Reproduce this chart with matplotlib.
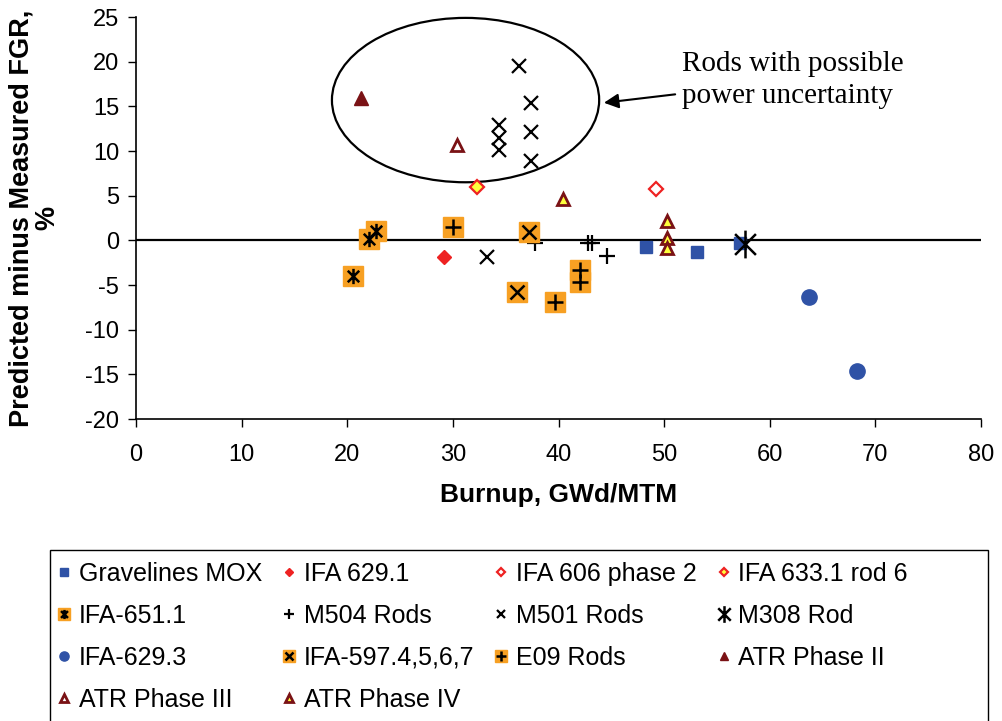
import numpy as np
import matplotlib
matplotlib.use("Agg")
import matplotlib.pyplot as plt
from matplotlib.path import Path
from matplotlib.patches import Ellipse, Rectangle
from matplotlib.legend_handler import HandlerTuple

plt.rcParams['font.family'] = ['Liberation Sans', 'DejaVu Sans']
plt.rcParams['axes.unicode_minus'] = False

# data (burnup GWd/MTM, predicted - measured FGR %)
grav_x = [48.3, 53.1, 57.2]
grav_y = [-0.7, -1.3, -0.3]
ifa6291_x = [29.2]
ifa6291_y = [-1.9]
ifa606_x = [49.2]
ifa606_y = [5.8]
ifa633_x = [32.3]
ifa633_y = [6.0]
ifa651_x = [20.5, 22.1, 22.7]
ifa651_y = [-4.0, 0.2, 1.0]
m504_x = [37.8, 42.8, 43.2, 44.6]
m504_y = [-0.3, -0.3, -0.3, -1.7]
m501_x = [33.2, 36.3, 37.4, 34.4, 34.4, 34.4, 37.4, 37.4]
m501_y = [-1.9, 19.5, 15.4, 12.9, 11.5, 10.1, 12.1, 8.9]
m308_x = [57.7]
m308_y = [-0.4]
ifa6293_x = [63.7, 68.3]
ifa6293_y = [-6.3, -14.6]
ifa597_x = [37.2, 36.1]
ifa597_y = [0.9, -5.8]
e09_x = [30.0, 39.7, 42.0, 42.0]
e09_y = [1.5, -6.9, -3.3, -4.7]
atr2_x = [21.3]
atr2_y = [15.9]
atr3_x = [30.4]
atr3_y = [10.7]
atr4_x = [40.4, 50.3, 50.3, 50.3]
atr4_y = [4.6, 2.2, 0.3, -0.9]

# asterisk marker: vertical line plus an X
ast = Path([(0, -1), (0, 1), (-0.75, -0.75), (0.75, 0.75), (-0.75, 0.75), (0.75, -0.75)],
           [Path.MOVETO, Path.LINETO, Path.MOVETO, Path.LINETO, Path.MOVETO, Path.LINETO])

blue = '#2F52A6'
red = '#EE2222'
orange = '#F7A023'
dred = '#7A1215'
yellow = '#FFFF3C'

fig = plt.figure(figsize=(10.02, 7.21), dpi=100)
ax = fig.add_axes([136 / 1002, 1 - 419 / 721, (981 - 136) / 1002, (419 - 17) / 721])

ax.axhline(0, color='black', lw=1.6, zorder=1)

def pts(x, y, **kw):
    return ax.plot(x, y, ls='none', **kw)[0]

h = {}
h['Gravelines MOX'] = pts(grav_x, grav_y, marker='s', ms=9, color=blue, mec=blue)
h['IFA 629.1'] = pts(ifa6291_x, ifa6291_y, marker='D', ms=7.5, color=red, mec=red)
h['IFA 606 phase 2'] = pts(ifa606_x, ifa606_y, marker='D', ms=7, mfc='white', mec=red, mew=1.6)
h['IFA 633.1 rod 6'] = pts(ifa633_x, ifa633_y, marker='D', ms=7, mfc=yellow, mec=red, mew=1.6)
sq = pts(ifa651_x, ifa651_y, marker='s', ms=14, color=orange, mec=orange)
st = pts(ifa651_x, ifa651_y, marker=ast, ms=11, color='black', mew=1.8)
h['IFA-651.1'] = (sq, st)
h['M504 Rods'] = pts(m504_x, m504_y, marker='+', ms=11, color='black', mew=1.6)
h['M501 Rods'] = pts(m501_x, m501_y, marker='x', ms=10, color='black', mew=1.6)
h['M308 Rod'] = pts(m308_x, m308_y, marker=ast, ms=20, color='black', mew=1.8)
h['IFA-629.3'] = pts(ifa6293_x, ifa6293_y, marker='o', ms=11, color=blue, mec=blue)
sq = pts(ifa597_x, ifa597_y, marker='s', ms=14, color=orange, mec=orange)
st = pts(ifa597_x, ifa597_y, marker='x', ms=10, color='black', mew=1.8)
h['IFA-597.4,5,6,7'] = (sq, st)
sq = pts(e09_x, e09_y, marker='s', ms=14, color=orange, mec=orange)
st = pts(e09_x, e09_y, marker='+', ms=11, color='black', mew=1.8)
h['E09 Rods'] = (sq, st)
h['ATR Phase II'] = pts(atr2_x, atr2_y, marker='^', ms=10, color=dred, mec=dred)
h['ATR Phase III'] = pts(atr3_x, atr3_y, marker='^', ms=9, mfc='white', mec=dred, mew=2)
h['ATR Phase IV'] = pts(atr4_x, atr4_y, marker='^', ms=9, mfc=yellow, mec=dred, mew=2)

ax.add_patch(Ellipse((31.2, 15.7), 25.3, 18.4, fill=False, ec='black', lw=1.6, clip_on=False))
ax.annotate('Rods with possible\npower uncertainty', xy=(44.3, 15.4), xytext=(51.7, 17.9),
            fontsize=21, family='Liberation Serif', va='center', ha='left', linespacing=1.3,
            arrowprops=dict(arrowstyle='-|>', color='black', lw=1.5, mutation_scale=22,
                            shrinkA=3, shrinkB=0))

ax.set_xlim(0, 80)
ax.set_ylim(-20, 25)
ax.set_xticks(np.arange(0, 81, 10))
ax.set_yticks(np.arange(-20, 26, 5))
ax.tick_params(labelsize=17, length=6, width=1, pad=12)
ax.tick_params(axis='y', pad=6)
for s in ['top', 'right']:
    ax.spines[s].set_visible(False)
for s in ['left', 'bottom']:
    ax.spines[s].set_linewidth(1.2)
ax.set_xlabel('Burnup, GWd/MTM', fontsize=19, fontweight='bold', labelpad=12)
ax.set_ylabel('Predicted minus Measured FGR,\n%', fontsize=19.5, fontweight='bold',
              labelpad=18, linespacing=1.0)

# legend box (bottom edge runs off the image like the reference)
fig.patches.append(Rectangle((50 / 1002, -0.05), 938 / 1002, 1 - 550 / 721 + 0.05,
                             transform=fig.transFigure, fill=False, ec='black', lw=1.0))

names = list(h.keys())
order = [0, 4, 8, 12, 1, 5, 9, 13, 2, 6, 10, 3, 7, 11]
leg = fig.legend([h[names[i]] for i in order], [names[i] for i in order],
                 loc='upper left', bbox_to_anchor=(55 / 1002, 1 - 562 / 721),
                 ncol=4, fontsize=18, frameon=False, markerscale=0.6,
                 handlelength=0.7, handletextpad=0.25, columnspacing=0.72,
                 borderaxespad=0, labelspacing=0.72, borderpad=0,
                 handler_map={tuple: HandlerTuple(ndivide=1, pad=0)})

fig.savefig('out.png', dpi=100)
